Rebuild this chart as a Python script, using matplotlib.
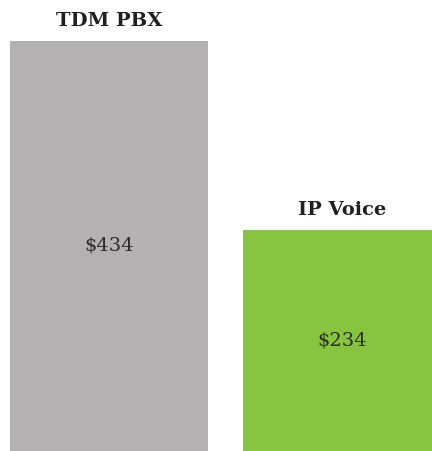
import matplotlib
matplotlib.use('Agg')
import matplotlib.pyplot as plt

# data
categories = ['TDM PBX', 'IP Voice']
costs = [434, 234]
colors = ['#b3b1b2', '#87c540']

fig = plt.figure(figsize=(4.32, 4.51), dpi=100)
ax = fig.add_axes([0, 0, 1, 1])

x = list(range(len(categories)))
bars = ax.bar(x, costs, width=0.85, color=colors)

for b, name, v in zip(bars, categories, costs):
    cx = b.get_x() + b.get_width() / 2
    # value in the middle of the bar
    ax.text(cx, v / 2, '$%d' % v, ha='center', va='center',
            family='DejaVu Serif', fontsize=14, color='#2b2b2b')
    # category name above
    ax.text(cx, v + 11, name, ha='center', va='bottom',
            family='DejaVu Serif', fontweight='bold', fontsize=14, color='#231f20')

ax.set_xlim(-0.468, 1.386)
ax.set_ylim(0, 477)
ax.axis('off')

fig.savefig('out.png', dpi=100)
